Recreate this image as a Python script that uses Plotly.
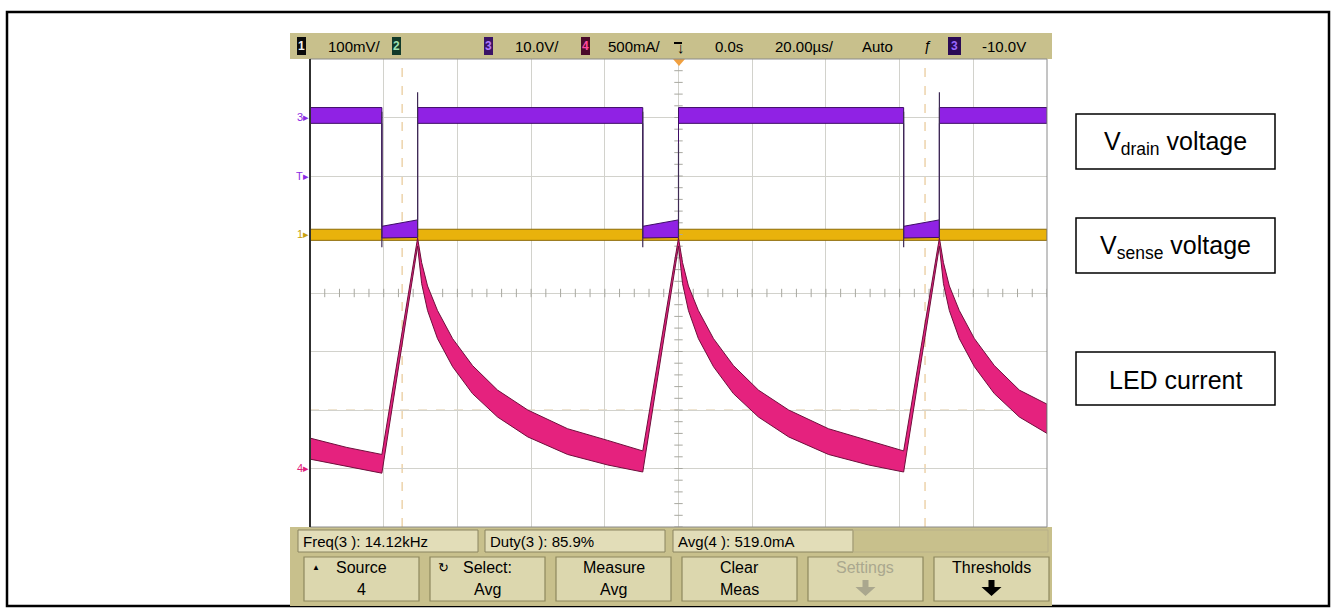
import plotly.graph_objects as go

W, H = 1333, 615

# ---------------- data read from the screen capture ----------------
# time base: 20 us/div, 10 divisions, trigger (0 s) in the centre
time_span_us = [-100, 100]

# channel 3 : drain voltage (V), 10 V/div, ground marker 3 div above centre
drain_t = [-100, -80.5, -80.5, -70.8, -70.8, -9.7, -9.7, 0.0, 0.0, 61.1, 61.1, 70.8, 70.8, 100]
drain_hi = [1.7, 1.7, -18.6, -17.5, 1.7, 1.7, -18.6, -17.5, 1.7, 1.7, -18.6, -17.5, 1.7, 1.7]
drain_lo = [-1.0, -1.0, -20.6, -20.5, -1.0, -1.0, -20.6, -20.5, -1.0, -1.0, -20.6, -20.5, -1.0, -1.0]
drain_edge_t = [-80.5, -70.8, -9.7, 0.0, 61.1, 70.8]
drain_edge_top = [1.0, 4.3, 1.0, -4.4, 1.0, 4.3]
drain_edge_bot = [-22.2, -20.5, -22.2, -20.5, -22.2, -20.5]

# channel 1 : sense voltage (mV), 100 mV/div, ground marker 1 div above centre
sense_t = [-100, 100]
sense_hi = [9, 9]
sense_lo = [-10, -10]

# channel 4 : LED current (A), 500 mA/div, ground marker 3 div below centre
led_t = [-100, -90, -80.5, -70.8, -69.7, -68.1, -65.4, -61.3, -55.9, -49.1, -40.9, -30.1, -19.2, -9.7,
         0.0, 1.1, 2.7, 5.4, 9.5, 14.9, 21.7, 29.9, 40.7, 51.6, 61.1,
         70.8, 71.9, 73.5, 76.2, 80.3, 85.7, 92.5, 100]
led_hi = [0.26, 0.18, 0.12, 1.97, 1.76, 1.56, 1.35, 1.11, 0.88, 0.67, 0.50, 0.34, 0.24, 0.15,
          1.97, 1.76, 1.56, 1.35, 1.11, 0.88, 0.67, 0.50, 0.34, 0.24, 0.15,
          1.97, 1.76, 1.56, 1.35, 1.11, 0.88, 0.67, 0.55]
led_lo = [0.08, 0.02, -0.04, 1.90, 1.58, 1.35, 1.11, 0.87, 0.64, 0.44, 0.27, 0.12, 0.03, -0.03,
          1.90, 1.58, 1.35, 1.11, 0.87, 0.64, 0.44, 0.27, 0.12, 0.03, -0.03,
          1.90, 1.58, 1.35, 1.11, 0.87, 0.64, 0.44, 0.30]

cursor_t = [-75.0, 66.9]          # vertical cursors (us)
cursor_level_A = 0.5              # horizontal cursor on channel 4 (A)

# scope settings
ch1_scale, ch1_pos = 100, 1     # mV/div, ground position (div)
ch3_scale, ch3_pos = 10, 3      # V/div
ch4_scale, ch4_pos = 0.5, -3    # A/div
n_div_y = 8

top_bar = ["100mV/", "10.0V/", "500mA/", "0.0s", "20.00\u00b5s/", "Auto", "-10.0V"]
meas_labels = ["Freq(3 ): 14.12kHz", "Duty(3 ): 85.9%", "Avg(4 ): 519.0mA"]
buttons = [("Source", "4"), ("Select:", "Avg"), ("Measure", "Avg"), ("Clear", "Meas"),
           ("Settings", ""), ("Thresholds", "")]
trace_labels = ["V<sub>drain</sub> voltage", "V<sub>sense</sub> voltage", "LED current"]

# ---------------- layout helpers (pixels -> paper) ----------------
def PX(x):
    return x / W


def PY(y):
    return 1 - y / H


PL, PR, PT, PB = 310, 1047, 59, 527   # graticule area in pixels

def rng(scale, pos):
    return [(-n_div_y / 2 - pos) * scale, (n_div_y / 2 - pos) * scale]


def band(t, hi, lo):
    return list(t) + list(t)[::-1], list(hi) + list(lo)[::-1]


fig = go.Figure()

# channel 1 (base axis, yellow)
bx, by = band(sense_t, sense_hi, sense_lo)
fig.add_trace(go.Scatter(x=bx, y=by, fill="toself", fillcolor="#e9b20c", mode="lines",
                         line=dict(color="#8c6a05", width=1), hoverinfo="skip", yaxis="y"))

# graticule centre-line ticks (decoration)
cx = [time_span_us[0] + 4 * k for k in range(51)]
ccy = (0 - ch1_pos) * ch1_scale
fig.add_trace(go.Scatter(x=cx, y=[ccy] * len(cx), mode="markers", hoverinfo="skip",
                         marker=dict(symbol="line-ns", size=6, line=dict(color="#a8a8a0", width=1)),
                         yaxis="y"))
r1 = rng(ch1_scale, ch1_pos)
cy = [r1[0] + k * ch1_scale / 5 for k in range(41)]
fig.add_trace(go.Scatter(x=[0] * len(cy), y=cy, mode="markers", hoverinfo="skip",
                         marker=dict(symbol="line-ew", size=6, line=dict(color="#a8a8a0", width=1)),
                         yaxis="y"))

# channel 3 (purple)
bx, by = band(drain_t, drain_hi, drain_lo)
fig.add_trace(go.Scatter(x=bx, y=by, fill="toself", fillcolor="#9022e4", mode="lines",
                         line=dict(color="#3e0c66", width=1), hoverinfo="skip", yaxis="y2"))
ex, ey = [], []
for t, a, b in zip(drain_edge_t, drain_edge_top, drain_edge_bot):
    ex += [t, t, None]
    ey += [a, b, None]
fig.add_trace(go.Scatter(x=ex, y=ey, mode="lines", line=dict(color="#3e2a55", width=1.2),
                         hoverinfo="skip", yaxis="y2"))

# channel 4 (pink)
bx, by = band(led_t, led_hi, led_lo)
fig.add_trace(go.Scatter(x=bx, y=by, fill="toself", fillcolor="#e5227e", mode="lines",
                         line=dict(color="#6e0f3c", width=1), hoverinfo="skip", yaxis="y3"))

shapes = []
annotations = []

def rect(x0, y0, x1, y1, fill=None, line="black", lw=1, layer="above"):
    shapes.append(dict(type="rect", xref="paper", yref="paper", x0=PX(x0), x1=PX(x1),
                       y0=PY(y1), y1=PY(y0), fillcolor=fill if fill else "rgba(0,0,0,0)",
                       line=dict(color=line, width=lw), layer=layer))


def text(x, y, s, size=14, color="black", xanchor="left", font="Liberation Sans Narrow, Liberation Sans, Arial"):
    annotations.append(dict(xref="paper", yref="paper", x=PX(x), y=PY(y), text=s, showarrow=False,
                            xanchor=xanchor, yanchor="middle",
                            font=dict(size=size, color=color, family=font)))


# outer frame
rect(7, 12, 1329, 606, line="black", lw=2.5)

# scope top bar
khaki = "#c8c08c"
rect(290, 33, 1052, 59, fill=khaki, line=khaki, lw=0)
chan_boxes = [(297, "1", "#0a0a0a", "#f0f0f0"), (392, "2", "#123a2a", "#9fe0b0"),
              (484, "3", "#3a1366", "#b07aff"), (581, "4", "#4a0a2a", "#ff4aa0"),
              (948, "3", "#2a0a55", "#9a66ff")]
for x0, s, bg, fg in chan_boxes:
    w = 9 if x0 < 900 else 13
    rect(x0, 37, x0 + w, 55, fill=bg, line=bg, lw=0)
    text(x0 + w / 2, 46.5, "<b>" + s + "</b>", size=12, color=fg, xanchor="center")
for x, s in zip([326, 513, 606, 713, 773, 860, 980], top_bar):
    text(x, 46, s, size=15)
text(922, 46, "\u0192", size=14)
# trigger-position marker
shapes.append(dict(type="path", xref="paper", yref="paper",
                   path="M %f,%f L %f,%f L %f,%f Z" % (PX(673), PY(59), PX(685), PY(59), PX(679), PY(66)),
                   fillcolor="#f0a040", line=dict(color="#f0a040", width=0)))
text(681, 48, "<b>\u2193</b>", size=15, color="black", xanchor="center")
shapes.append(dict(type="line", xref="paper", yref="paper", x0=PX(674), x1=PX(682), y0=PY(43), y1=PY(43),
                   line=dict(color="black", width=2)))

# bottom panel
rect(290, 527, 1052, 606, fill=khaki, line=khaki, lw=0)
for (x0, x1), s in zip([(298, 478), (485, 665), (673, 853)], meas_labels):
    rect(x0, 530, x1, 552, fill="#e2ddb8", line="#8a8460", lw=1)
    text(x0 + 3, 541, s, size=15)
rect(853, 530, 1048, 552, fill=None, line="#b8b088", lw=1)
for i, (l1, l2) in enumerate(buttons):
    x0 = 304 + 126 * i
    x1 = x0 + 115
    rect(x0, 557, x1, 601, fill="#dcd7ae", line="#8e885e", lw=1.2)
    col = "#aaa78e" if l1 == "Settings" else "black"
    cxp = (x0 + x1) / 2
    if l2:
        text(cxp, 567, l1, size=16, color=col, xanchor="center")
        text(cxp, 589, l2, size=16, color=col, xanchor="center")
    else:
        text(cxp, 567, l1, size=16, color=col, xanchor="center")
        shapes.append(dict(type="path", xref="paper", yref="paper",
                           path="M %f,%f L %f,%f L %f,%f L %f,%f L %f,%f L %f,%f L %f,%f Z" % (
                               PX(cxp - 3), PY(580), PX(cxp + 3), PY(580), PX(cxp + 3), PY(587),
                               PX(cxp + 10), PY(587), PX(cxp), PY(596), PX(cxp - 10), PY(587),
                               PX(cxp - 3), PY(587)),
                           fillcolor=col, line=dict(color=col, width=0)))
text(310, 567, "\u25b2", size=8)
text(436, 567, "\u21bb", size=13)

# graticule frame and cursors
rect(PL, PT, PR, PB, line="#8a8a8a", lw=1)
shapes.append(dict(type="line", xref="paper", yref="paper", x0=PX(PL), x1=PX(PL), y0=PY(PB), y1=PY(PT),
                   line=dict(color="#303030", width=2)))
for t in cursor_t:
    shapes.append(dict(type="line", xref="x", yref="paper", x0=t, x1=t, y0=PY(PB), y1=PY(PT),
                       line=dict(color="#e8c896", width=1.2, dash="dash"), layer="below"))
shapes.append(dict(type="line", xref="paper", yref="y3", x0=PX(PL), x1=PX(PR), y0=cursor_level_A,
                   y1=cursor_level_A, line=dict(color="#e0cba8", width=1.2, dash="dash"), layer="below"))
shapes.append(dict(type="line", xref="x", yref="paper", x0=0, x1=0, y0=PY(PB), y1=PY(PT),
                   line=dict(color="#f0c8b0", width=1, dash="dot"), layer="below"))

# channel ground markers
for y, s, c in [(117, "3\u25b8", "#8a2be2"), (176, "T\u25b8", "#8a2be2"), (234, "1\u25b8", "#c8a010"),
                (468, "4\u25b8", "#e0207a")]:
    text(311, y, s, size=11, color=c, xanchor="right")

# label boxes on the right
for (y0, y1), s in zip([(114, 169), (218, 273), (352, 405)], trace_labels):
    rect(1076, y0, 1275, y1, fill="white", line="black", lw=1.5)
    text(1175.5, (y0 + y1) / 2 + 1, s, size=25, xanchor="center", font="Liberation Sans, Arial")

grid = "#d2d2cc"
fig.update_layout(
    width=W, height=H, autosize=False,
    margin=dict(l=0, r=0, t=0, b=0, pad=0),
    paper_bgcolor="white", plot_bgcolor="white", showlegend=False,
    xaxis=dict(domain=[PX(PL), PX(PR)], range=time_span_us, dtick=20, tick0=0, showgrid=True,
               gridcolor=grid, gridwidth=1, zeroline=False, showticklabels=False, ticks="", showline=False,
               fixedrange=True),
    yaxis=dict(domain=[PY(PB), PY(PT)], range=rng(ch1_scale, ch1_pos), dtick=ch1_scale, tick0=0,
               showgrid=True, gridcolor=grid, gridwidth=1, zeroline=False, showticklabels=False,
               ticks="", showline=False, fixedrange=True),
    yaxis2=dict(overlaying="y", range=rng(ch3_scale, ch3_pos), showgrid=False, zeroline=False,
                showticklabels=False, ticks="", fixedrange=True),
    yaxis3=dict(overlaying="y", range=rng(ch4_scale, ch4_pos), showgrid=False, zeroline=False,
                showticklabels=False, ticks="", fixedrange=True),
    shapes=shapes, annotations=annotations,
)

fig.write_html("out.html", config={"displayModeBar": False},
               post_script="document.body.style.margin='0px';document.body.style.overflow='hidden';")
